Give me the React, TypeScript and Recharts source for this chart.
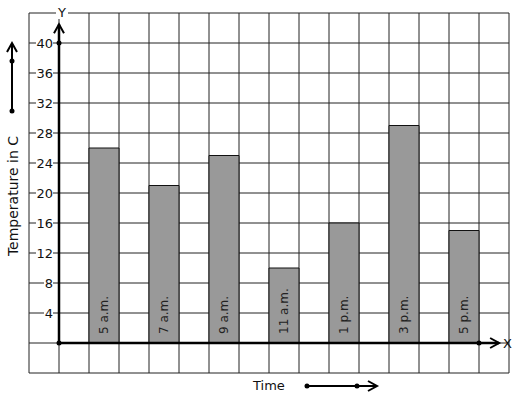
import {
  BarChart,
  Bar,
  XAxis,
  YAxis,
  CartesianGrid,
  ReferenceLine,
  ReferenceDot,
  LabelList,
  Customized,
} from 'recharts';

const times = ['5 a.m.', '7 a.m.', '9 a.m.', '11 a.m.', '1 p.m.', '3 p.m.', '5 p.m.'];
const temperatures = [26, 21, 25, 10, 16, 29, 15];
const yTicks = [-4, 0, 4, 8, 12, 16, 20, 24, 28, 32, 36, 40, 44];
const yLabelTicks = [4, 8, 12, 16, 20, 24, 28, 32, 36, 40];
const xTicks = [-1, 0, 1, 2, 3, 4, 5, 6, 7, 8, 9, 10, 11, 12, 13, 14, 15];

// every bar sits in every second grid column, starting at column 1
const data = times.map((time, i) => ({ time, slot: 2 * i + 1.5, temp: temperatures[i] }));

const FONT = "'DejaVu Sans', Verdana, sans-serif";
const INK = '#111';

const YTick = ({ x, y, payload }: { x?: number; y?: number; payload?: { value: number } }) => {
  const v = payload?.value ?? 0;
  if (!yLabelTicks.includes(v) || x === undefined || y === undefined) return <g />;
  const label = String(v);
  const w = label.length * 8;
  const right = x + 24;
  return (
    <g>
      <rect x={right - w - 1} y={y - 6} width={w + 1} height={12} fill="#fff" />
      <text x={right} y={y} textAnchor="end" dominantBaseline="central" fontSize={13} fill={INK} fontFamily={FONT}>
        {label}
      </text>
    </g>
  );
};

const NoTick = () => <g />;

const BarName = (props: any) => {
  const { x, y, width, height, value } = props;
  const cx = x + width / 2 + 4;
  const by = y + height - 9;
  return (
    <text
      x={cx}
      y={by}
      transform={`rotate(-90 ${cx} ${by})`}
      fontSize={12}
      fill="#222"
      fontFamily={FONT}
    >
      {value}
    </text>
  );
};

const YAxisArrow = (props: any) => {
  const { x1, y1, x2, y2 } = props;
  return (
    <g stroke="#000" strokeWidth={2.5} fill="none">
      <line x1={x1} y1={y1} x2={x2} y2={y2} />
      <polyline points={`${x2 - 5},${y2 + 9} ${x2},${y2} ${x2 + 5},${y2 + 9}`} strokeWidth={2} />
    </g>
  );
};

const XAxisArrow = (props: any) => {
  const { x1, y1, x2, y2 } = props;
  return (
    <g stroke="#000" strokeWidth={2.5} fill="none">
      <line x1={x1} y1={y1} x2={x2} y2={y2} />
      <polyline points={`${x2 - 9},${y2 - 5} ${x2},${y2} ${x2 - 9},${y2 + 5}`} strokeWidth={2} />
    </g>
  );
};

const Decorations = () => (
  <g fontFamily={FONT} fill={INK}>
    {/* axis letters */}
    <rect x={56} y={5} width={12} height={14} fill="#fff" />
    <text x={62} y={12} textAnchor="middle" dominantBaseline="central" fontSize={13}>
      Y
    </text>
    <text x={503} y={343} dominantBaseline="central" fontSize={13}>
      X
    </text>
    {/* y title with its arrow */}
    <text
      x={13}
      y={196}
      textAnchor="middle"
      dominantBaseline="central"
      fontSize={14}
      transform="rotate(-90 13 196)"
    >
      Temperature in C
    </text>
    <g stroke="#000" strokeWidth={2} fill="none">
      <line x1={12} y1={111} x2={12} y2={43} />
      <polyline points="7,52 12,43 17,52" />
    </g>
    <circle cx={12} cy={61} r={2.5} fill="#000" />
    <circle cx={12} cy={111} r={2.5} fill="#000" />
    {/* x title with its arrow */}
    <text x={253} y={385} dominantBaseline="central" fontSize={13}>
      Time
    </text>
    <g stroke="#000" strokeWidth={2} fill="none">
      <line x1={307} y1={386} x2={377} y2={386} />
      <polyline points="368,381 377,386 368,391" />
    </g>
    <circle cx={307} cy={386} r={2.5} fill="#000" />
    <circle cx={357} cy={386} r={2.5} fill="#000" />
  </g>
);

export default function App() {
  return (
    <div style={{ position: 'absolute', left: 0, top: 0, background: '#fff' }}>
      <BarChart width={517} height={399} data={data} margin={{ top: 13, right: 8, bottom: 0, left: 0 }}>
        <CartesianGrid stroke="#222" strokeWidth={1} />
        <XAxis
          dataKey="slot"
          type="number"
          domain={[-1, 15]}
          ticks={xTicks}
          interval={0}
          height={26}
          tick={<NoTick />}
          tickLine={false}
          axisLine={false}
        />
        <YAxis
          type="number"
          domain={[-4, 44]}
          ticks={yTicks}
          width={29}
          tickSize={0}
          tickMargin={0}
          tickLine={false}
          axisLine={false}
          tick={<YTick />}
          interval={0}
        />
        <Bar dataKey="temp" barSize={30} fill="#999" stroke={INK} strokeWidth={1} isAnimationActive={false}>
          <LabelList dataKey="time" content={<BarName />} />
        </Bar>
        <ReferenceLine segment={[{ x: 0, y: 0 }, { x: 0, y: 42.5 }]} shape={<YAxisArrow />} />
        <ReferenceLine segment={[{ x: 0, y: 0 }, { x: 14.67, y: 0 }]} shape={<XAxisArrow />} />
        <ReferenceDot x={0} y={40} r={2.5} fill="#000" stroke="none" />
        <ReferenceDot x={0} y={0} r={2.5} fill="#000" stroke="none" />
        <ReferenceDot x={14} y={0} r={2.5} fill="#000" stroke="none" />
        <Customized component={<Decorations />} />
      </BarChart>
    </div>
  );
}
